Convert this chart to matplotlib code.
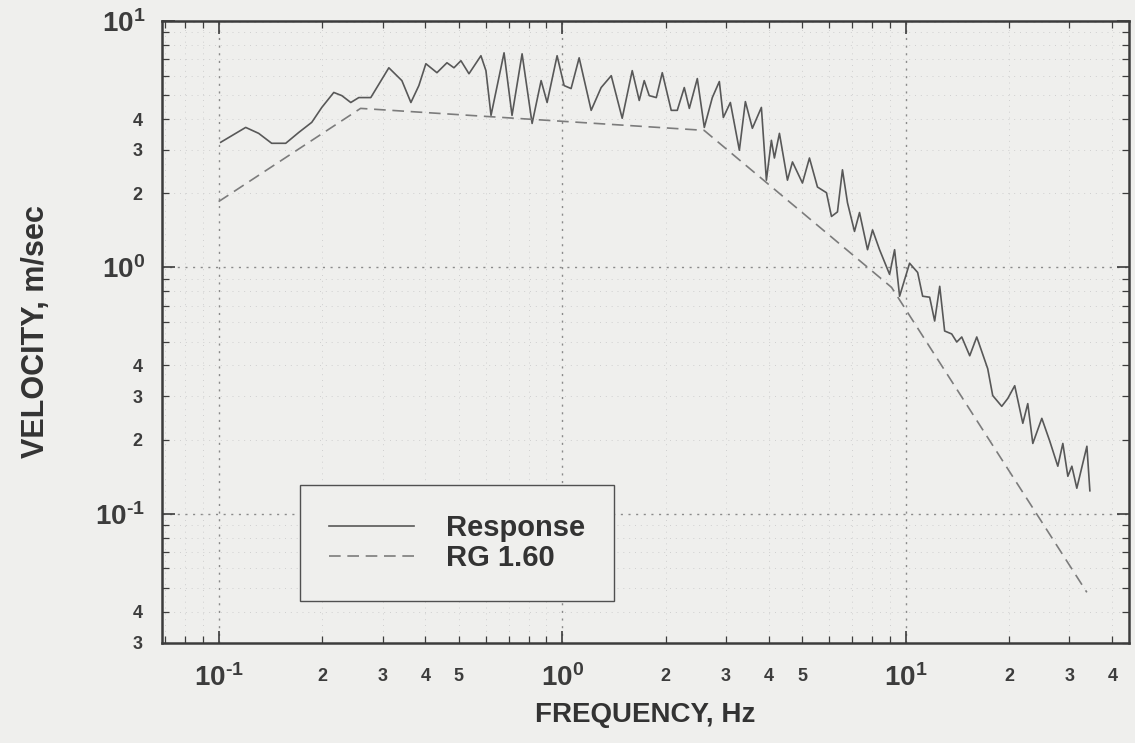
import numpy as np
import matplotlib
matplotlib.use("Agg")
import matplotlib.pyplot as plt
from matplotlib.ticker import LogLocator, FuncFormatter

# === Data ===
freq_resp = [0.1014, 0.1199, 0.1308, 0.1427, 0.1568, 0.1711, 0.1867, 0.1997, 0.2164, 0.2284,
             0.2425, 0.2559, 0.2773, 0.3130, 0.3416, 0.3629, 0.3828, 0.4012, 0.4321, 0.4621,
             0.4843, 0.5075, 0.5356, 0.5803, 0.6001, 0.6209, 0.6776, 0.7148, 0.7647, 0.8178,
             0.8687, 0.9043, 0.9669, 1.0135, 1.062, 1.121, 1.215, 1.299, 1.390, 1.496,
             1.600, 1.677, 1.734, 1.793, 1.880, 1.957, 2.078, 2.164, 2.268, 2.346,
             2.475, 2.594, 2.737, 2.869, 2.947, 3.089, 3.281, 3.416, 3.580, 3.803,
             3.933, 4.067, 4.150, 4.292, 4.529, 4.684, 5.008, 5.249, 5.538, 5.883,
             6.084, 6.333, 6.549, 6.773, 7.099, 7.342, 7.747, 8.012, 8.398, 8.982,
             9.289, 9.605, 10.27, 10.84, 11.21, 11.75, 12.15, 12.57, 12.99, 13.62,
             14.09, 14.57, 15.37, 16.11, 17.34, 17.93, 19.05, 19.84, 20.78, 21.94,
             22.68, 23.46, 24.92, 26.29, 27.74, 28.69, 29.67, 30.48, 31.51, 33.71, 34.39]
vel_resp = [3.22, 3.70, 3.50, 3.19, 3.19, 3.53, 3.88, 4.46, 5.13, 4.98,
            4.67, 4.89, 4.89, 6.46, 5.73, 4.67, 5.47, 6.71, 6.17, 6.77,
            6.46, 6.90, 6.11, 7.23, 6.29, 4.14, 7.43, 4.14, 7.36, 3.84,
            5.73, 4.67, 7.23, 5.47, 5.32, 7.09, 4.34, 5.37, 6.00, 4.03,
            6.29, 4.76, 5.73, 4.98, 4.89, 6.17, 4.34, 4.34, 5.37, 4.42,
            5.84, 3.70, 4.89, 5.68, 4.06, 4.67, 2.99, 4.71, 3.67, 4.46,
            2.26, 3.28, 2.78, 3.50, 2.26, 2.68, 2.20, 2.78, 2.12, 2.01,
            1.61, 1.68, 2.49, 1.83, 1.40, 1.67, 1.18, 1.42, 1.18, 0.937,
            1.18, 0.764, 1.04, 0.954, 0.764, 0.757, 0.606, 0.838, 0.552, 0.537,
            0.498, 0.522, 0.438, 0.522, 0.388, 0.302, 0.273, 0.294, 0.331, 0.233,
            0.280, 0.193, 0.244, 0.197, 0.156, 0.193, 0.142, 0.156, 0.127, 0.188, 0.124]

freq_rg = [0.1, 0.259, 2.59, 9.1, 33.7]
vel_rg = [1.85, 4.42, 3.60, 0.83, 0.048]

# === Style ===
plt.rcParams['font.family'] = ['Liberation Sans', 'DejaVu Sans']
plt.rcParams['font.weight'] = 'bold'
plt.rcParams['mathtext.fontset'] = 'custom'
plt.rcParams['mathtext.bf'] = 'Liberation Sans:bold'
plt.rcParams['mathtext.rm'] = 'Liberation Sans:bold'

bg = '#efefed'
ink = '#3c3c3c'

fig = plt.figure(figsize=(11.35, 7.43), dpi=100, facecolor=bg)
ax = fig.add_axes([0.1427, 0.1346, 0.852, 0.8371], facecolor=bg)

ax.plot(freq_resp, vel_resp, color='#585858', lw=1.2, label='Response')
ax.plot(freq_rg, vel_rg, color='#7c7c7c', lw=1.2, dashes=(7, 4), label='RG 1.60')

ax.set_xscale('log')
ax.set_yscale('log')
ax.set_xlim(0.0684, 44.7)
ax.set_ylim(0.0299, 10)

# ticks
ax.xaxis.set_major_locator(LogLocator(base=10))
ax.yaxis.set_major_locator(LogLocator(base=10))
ax.xaxis.set_minor_locator(LogLocator(base=10, subs=np.arange(2, 10)))
ax.yaxis.set_minor_locator(LogLocator(base=10, subs=np.arange(2, 10)))


def major_fmt(v, pos):
    e = int(round(np.log10(v)))
    if e < 0:
        return r'$\mathbf{10^{\text{-}%d}}$' % (-e)
    return r'$\mathbf{10^{%d}}$' % e


def minor_fmt(keep):
    def f(v, pos):
        m = int(round(v / 10 ** np.floor(np.log10(v) + 1e-9)))
        return str(m) if m in keep else ''
    return f


ax.xaxis.set_major_formatter(FuncFormatter(major_fmt))
ax.yaxis.set_major_formatter(FuncFormatter(major_fmt))
ax.xaxis.set_minor_formatter(FuncFormatter(minor_fmt([2, 3, 4, 5])))
ax.yaxis.set_minor_formatter(FuncFormatter(minor_fmt([2, 3, 4])))

ax.tick_params(which='both', direction='in', top=True, right=True, colors=ink)
ax.tick_params(which='major', length=9, width=1.2, labelsize=20)
ax.tick_params(which='minor', length=5, width=0.9, labelsize=13)
ax.tick_params(axis='x', which='major', pad=15)
ax.tick_params(axis='x', which='minor', pad=18)
ax.tick_params(axis='y', which='minor', pad=14)
ax.tick_params(axis='y', which='major', pad=12)

for s in ax.spines.values():
    s.set_color(ink)
    s.set_linewidth(1.8)

ax.grid(True, which='major', color='#8a8a8a', lw=1.0, linestyle=(0, (1.5, 4)))
ax.grid(True, which='minor', color='#cfcfcf', lw=0.7, linestyle=(0, (1, 5)))

ax.set_xlabel('FREQUENCY, Hz', fontsize=20, fontweight='bold', color='#333333')
ax.set_ylabel('VELOCITY, m/sec', fontsize=22, fontweight='bold', color='#333333')
ax.xaxis.set_label_coords(0.5, -0.095)
ax.yaxis.set_label_coords(-0.115, 0.5)

leg = ax.legend(loc='lower left', bbox_to_anchor=(0.1427, 0.0675), borderaxespad=0,
                prop={'weight': 'bold', 'size': 21}, frameon=True, fancybox=False,
                borderpad=1.0, handlelength=2.9, handletextpad=1.1, labelspacing=0.05)
leg.get_frame().set_edgecolor('#505050')
leg.get_frame().set_linewidth(1.0)
leg.get_frame().set_facecolor(bg)
leg.get_frame().set_alpha(1.0)
for t in leg.get_texts():
    t.set_color('#333333')

fig.savefig('out.png', dpi=100, facecolor=bg)
